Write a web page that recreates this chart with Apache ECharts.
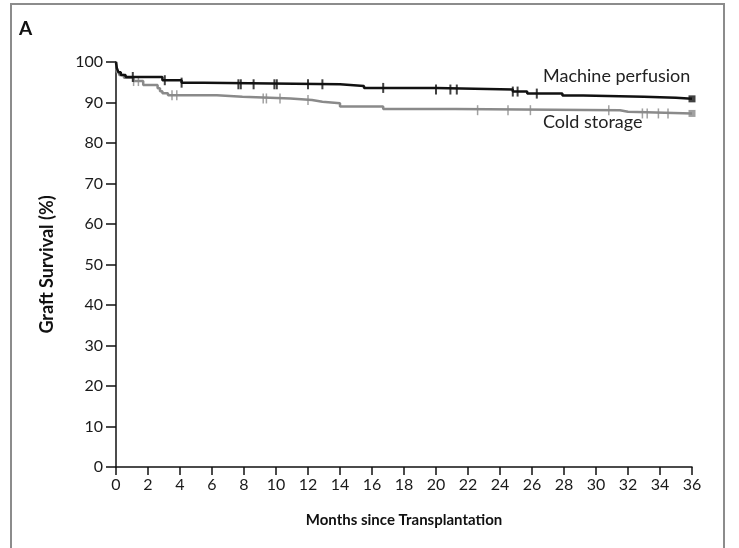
<!DOCTYPE html>
<html><head><meta charset="utf-8">
<script src="https://cdn.jsdelivr.net/npm/echarts@6/dist/echarts.min.js"></script>
<style>html,body{margin:0;padding:0;background:#fff}#c{width:739px;height:548px}</style>
</head><body><div id="c"></div>
<script>
// Kaplan-Meier step data (time in months, survival %)
const machineT = [0, 0.05, 0.15, 0.3, 0.6, 2.9, 4.1, 5.5, 14.0, 15.5, 20.0, 24.8, 25.7, 27.9, 29.2, 33.0, 35.0, 36];
const machineS = [100, 98.5, 97.5, 96.8, 96.3, 95.5, 94.9, 94.5, 94.1, 93.6, 93.2, 92.7, 92.2, 91.7, 91.4, 91.2, 90.9, 90.9];
const coldT = [0, 0.05, 0.2, 0.5, 1.1, 1.7, 2.6, 2.75, 2.9, 3.25, 6.3, 7.9, 10.9, 12.25, 12.9, 14.0, 16.7, 21.2, 31.5, 32.0, 36];
const coldS = [100, 97.5, 96.8, 96.1, 95.3, 94.3, 93.5, 92.8, 92.3, 91.8, 91.4, 91.0, 90.6, 90.2, 89.8, 89.0, 88.4, 88.1, 87.7, 87.3, 87.3];
// censoring times
const machineCens = [1.05, 3.05, 4.1, 7.65, 7.8, 8.6, 9.9, 10.05, 12.0, 12.9, 16.7, 20.0, 20.9, 21.3, 24.8, 25.1, 26.3];
const coldCens = [1.1, 1.4, 3.5, 3.8, 9.2, 9.4, 10.25, 12.0, 22.6, 24.5, 25.9, 30.8, 32.9, 33.2, 33.9, 34.5];
const xTicks = [0, 2, 4, 6, 8, 10, 12, 14, 16, 18, 20, 22, 24, 26, 28, 30, 32, 34, 36];
const yTicks = [0, 10, 20, 30, 40, 50, 60, 70, 80, 90, 100];
const seriesNames = ['Machine perfusion', 'Cold storage'];

function stepAt(T, S, t) { let v = S[0]; for (let i = 0; i < T.length; i++) { if (T[i] <= t) v = S[i]; } return v; }
const zip = (T, S) => T.map((t, i) => [t, S[i]]);
const black = '#111', gray = '#8a8a8a';
const font = 'Lato';

const chart = echarts.init(document.getElementById('c'), null, {renderer: 'canvas'});
chart.setOption({
  animation: false,
  backgroundColor: '#fff',
  grid: {left: 116, right: 47, top: 62, bottom: 81, containLabel: false},
  xAxis: {
    type: 'value', min: 0, max: 36, interval: 2,
    axisLine: {onZero: false, lineStyle: {color: '#111', width: 1.5}},
    axisTick: {show: true, length: 8, lineStyle: {color: '#111', width: 1.5}},
    axisLabel: {color: '#1a1a1a', fontSize: 16, fontFamily: font, margin: 10,
      formatter: v => xTicks.includes(v) ? String(v) : ''},
    splitLine: {show: false},
    name: 'Months since Transplantation', nameLocation: 'middle', nameGap: 46,
    nameTextStyle: {color: '#111', fontSize: 15, fontWeight: 'bold', fontFamily: font}
  },
  yAxis: {
    type: 'value', min: 0, max: 100, interval: 10,
    axisLine: {show: true, onZero: false, lineStyle: {color: '#111', width: 1.5}},
    axisTick: {show: true, length: 10, lineStyle: {color: '#111', width: 1.5}},
    axisLabel: {color: '#1a1a1a', fontSize: 16, fontFamily: font, margin: 13,
      formatter: v => yTicks.includes(v) ? String(v) : ''},
    splitLine: {show: false},
    name: 'Graft Survival (%)', nameLocation: 'middle', nameGap: 60, nameRotate: 90,
    nameTextStyle: {color: '#111', fontSize: 18, fontWeight: 'bold', fontFamily: font}
  },
  series: [
    {name: seriesNames[1], type: 'line', step: 'end', data: zip(coldT, coldS), showSymbol: false,
      lineStyle: {color: gray, width: 2.5}, z: 2},
    {name: seriesNames[0], type: 'line', step: 'end', data: zip(machineT, machineS), showSymbol: false,
      lineStyle: {color: black, width: 2.5}, z: 3},
    {type: 'scatter', data: coldCens.map(t => [t, stepAt(coldT, coldS, t)]), symbol: 'rect',
      symbolSize: [1.5, 10], itemStyle: {color: gray}, z: 2},
    {type: 'scatter', data: machineCens.map(t => [t, stepAt(machineT, machineS, t)]), symbol: 'rect',
      symbolSize: [2, 10], itemStyle: {color: black}, z: 3},
    {type: 'scatter', data: [[36, stepAt(coldT, coldS, 36)]], symbol: 'rect', symbolSize: 7,
      itemStyle: {color: gray}, z: 2},
    {type: 'scatter', data: [[36, stepAt(machineT, machineS, 36)]], symbol: 'rect', symbolSize: 7,
      itemStyle: {color: black}, z: 3}
  ],
  graphic: [
    {type: 'rect', shape: {x: 11, y: 4, width: 713, height: 600}, style: {fill: null, stroke: '#8c8c8c', lineWidth: 2}, silent: true},
    {type: 'text', left: 19, top: 19, style: {text: 'A', fontSize: 19, fontWeight: 'bold', fontFamily: font, fill: '#111'}},
    {type: 'text', left: 543, top: 67, style: {text: seriesNames[0], fontSize: 18, fontFamily: font, fill: '#222'}},
    {type: 'text', left: 543, top: 113, style: {text: seriesNames[1], fontSize: 18, fontFamily: font, fill: '#222'}}
  ]
});
</script></body></html>
